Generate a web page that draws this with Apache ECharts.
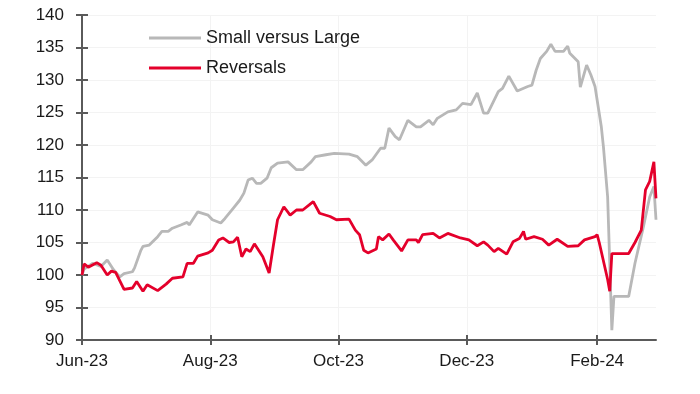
<!DOCTYPE html>
<html>
<head>
<meta charset="utf-8">
<script src="https://cdn.jsdelivr.net/npm/echarts@6/dist/echarts.min.js"></script>
<style>
html,body{margin:0;padding:0;background:#fff;}
#chart{width:700px;height:394px;}
</style>
</head>
<body>
<div id="chart"></div>
<script>
// Axis range
var START_DATE = '2023-06-01';
var END_DATE = '2024-02-29';
var Y_MIN = 90, Y_MAX = 140, Y_STEP = 5;
var SERIES_NAMES = ['Small versus Large', 'Reversals'];
var MONTH_NAMES = ['Jan','Feb','Mar','Apr','May','Jun','Jul','Aug','Sep','Oct','Nov','Dec'];

// Small versus Large (grey)
var smallVsLarge = [
  ['2023-06-01',100.0],['2023-06-02',100.9],['2023-06-06',101.8],['2023-06-10',101.3],
  ['2023-06-13',102.3],['2023-06-16',100.8],['2023-06-19',99.7],['2023-06-21',100.2],
  ['2023-06-25',100.5],['2023-06-26',101.1],['2023-06-29',103.8],['2023-06-30',104.4],
  ['2023-07-03',104.6],['2023-07-07',105.9],['2023-07-09',106.7],['2023-07-12',106.7],
  ['2023-07-14',107.2],['2023-07-18',107.7],['2023-07-21',108.1],['2023-07-22',107.7],
  ['2023-07-26',109.7],['2023-07-31',109.2],['2023-08-02',108.5],['2023-08-06',108.0],
  ['2023-08-08',108.7],['2023-08-12',110.3],['2023-08-15',111.5],['2023-08-17',112.6],
  ['2023-08-19',114.6],['2023-08-21',114.9],['2023-08-23',114.1],['2023-08-25',114.1],
  ['2023-08-28',114.9],['2023-08-30',116.5],['2023-09-02',117.2],['2023-09-07',117.4],
  ['2023-09-11',116.2],['2023-09-14',116.2],['2023-09-18',117.4],['2023-09-20',118.2],
  ['2023-09-25',118.5],['2023-09-29',118.7],['2023-10-06',118.6],['2023-10-10',118.2],
  ['2023-10-14',116.9],['2023-10-17',117.7],['2023-10-21',119.5],['2023-10-23',119.5],
  ['2023-10-25',122.6],['2023-10-28',121.3],['2023-10-30',120.8],['2023-11-03',123.8],
  ['2023-11-07',122.8],['2023-11-09',122.8],['2023-11-13',123.8],['2023-11-15',123.1],
  ['2023-11-17',124.1],['2023-11-22',125.1],['2023-11-26',125.4],['2023-11-29',126.4],
  ['2023-12-03',126.2],['2023-12-06',128.0],['2023-12-09',124.9],['2023-12-11',124.9],
  ['2023-12-16',128.2],['2023-12-18',128.7],['2023-12-21',130.6],['2023-12-25',128.3],
  ['2023-12-30',129.0],['2024-01-01',129.2],['2024-01-03',131.5],['2024-01-05',133.3],
  ['2024-01-08',134.4],['2024-01-10',135.5],['2024-01-12',134.4],['2024-01-16',134.4],
  ['2024-01-18',135.2],['2024-01-19',134.1],['2024-01-23',132.8],['2024-01-24',128.9],
  ['2024-01-27',132.3],['2024-01-29',130.8],['2024-01-31',129.0],['2024-02-03',122.8],
  ['2024-02-04',119.7],['2024-02-06',112.0],['2024-02-07',101.8],['2024-02-08',91.5],
  ['2024-02-09',96.7],['2024-02-16',96.7],['2024-02-19',101.8],['2024-02-23',107.4],
  ['2024-02-26',112.0],['2024-02-28',113.6],['2024-02-29',108.5]
];

// Reversals (red)
var reversals = [
  ['2023-06-01',100.0],['2023-06-02',101.7],['2023-06-04',101.2],['2023-06-08',101.9],
  ['2023-06-10',101.5],['2023-06-13',100.0],['2023-06-15',100.6],['2023-06-17',100.4],
  ['2023-06-21',97.8],['2023-06-25',98.0],['2023-06-27',99.0],['2023-06-30',97.5],
  ['2023-07-02',98.5],['2023-07-07',97.6],['2023-07-11',98.6],['2023-07-14',99.5],
  ['2023-07-19',99.7],['2023-07-21',101.8],['2023-07-24',101.8],['2023-07-26',102.9],
  ['2023-07-31',103.4],['2023-08-02',103.8],['2023-08-05',105.4],['2023-08-07',105.7],
  ['2023-08-10',105.0],['2023-08-12',105.1],['2023-08-14',105.8],['2023-08-16',102.8],
  ['2023-08-18',104.0],['2023-08-20',103.6],['2023-08-22',104.8],['2023-08-24',103.8],
  ['2023-08-26',102.8],['2023-08-29',100.3],['2023-08-31',104.5],['2023-09-02',108.5],
  ['2023-09-05',110.5],['2023-09-08',109.2],['2023-09-11',110.0],['2023-09-14',110.0],
  ['2023-09-19',111.3],['2023-09-22',109.5],['2023-09-27',109.0],['2023-09-30',108.5],
  ['2023-10-06',108.6],['2023-10-09',106.9],['2023-10-11',106.2],['2023-10-13',103.8],
  ['2023-10-15',103.4],['2023-10-19',104.0],['2023-10-20',105.9],['2023-10-22',105.4],
  ['2023-10-25',106.3],['2023-10-27',105.4],['2023-10-31',103.7],['2023-11-03',105.4],
  ['2023-11-07',105.4],['2023-11-08',105.0],['2023-11-10',106.2],['2023-11-15',106.4],
  ['2023-11-18',105.7],['2023-11-22',106.4],['2023-11-28',105.7],['2023-12-02',105.4],
  ['2023-12-06',104.5],['2023-12-09',105.1],['2023-12-11',104.6],['2023-12-14',103.6],
  ['2023-12-16',104.1],['2023-12-20',103.2],['2023-12-23',105.1],['2023-12-26',105.6],
  ['2023-12-28',106.7],['2023-12-29',105.5],['2024-01-02',105.9],['2024-01-06',105.5],
  ['2024-01-09',104.6],['2024-01-13',105.5],['2024-01-18',104.4],['2024-01-23',104.5],
  ['2024-01-26',105.4],['2024-01-31',105.9],['2024-02-01',106.2],['2024-02-02',105.0],
  ['2024-02-06',99.3],['2024-02-07',97.5],['2024-02-08',103.3],['2024-02-16',103.3],
  ['2024-02-19',105.0],['2024-02-22',106.9],['2024-02-24',113.1],['2024-02-26',114.4],
  ['2024-02-28',117.4],['2024-02-29',111.8]
];

// daily categories
function pad(n){return (n<10?'0':'')+n;}
var categories = [];
(function(){
  var d = new Date(START_DATE + 'T00:00:00Z');
  var e = new Date(END_DATE + 'T00:00:00Z');
  while (d <= e) {
    categories.push(d.getUTCFullYear()+'-'+pad(d.getUTCMonth()+1)+'-'+pad(d.getUTCDate()));
    d = new Date(d.getTime() + 86400000);
  }
})();

function isMajor(idx, val){
  var m = parseInt(val.substr(5,2),10);
  return val.substr(8,2) === '01' && (m % 2 === 0);
}
function fmt(val){
  var m = parseInt(val.substr(5,2),10);
  return MONTH_NAMES[m-1] + '-' + val.substr(2,2);
}

var AXIS_COLOR = '#5a5a5a';
var FONT = 'Liberation Sans, Arial, sans-serif';

var chart = echarts.init(document.getElementById('chart'), null, {renderer:'canvas'});
chart.setOption({
  animation: false,
  backgroundColor: '#ffffff',
  grid: {left: 82, right: 44, top: 15, bottom: 54, containLabel: false},
  legend: {
    orient: 'vertical',
    left: 144, top: 23,
    itemWidth: 52, itemHeight: 3, itemGap: 10,
    icon: 'rect',
    data: SERIES_NAMES,
    textStyle: {fontFamily: FONT, fontSize: 18, color: '#1a1a1a', lineHeight: 20}
  },
  xAxis: [{
    type: 'category', data: categories, boundaryGap: false,
    axisLine: {lineStyle: {color: AXIS_COLOR, width: 2}},
    axisTick: {show: true, interval: isMajor, length: 5, lineStyle: {color: AXIS_COLOR, width: 2}},
    axisLabel: {interval: isMajor, formatter: fmt, margin: 13, fontFamily: FONT, fontSize: 17, color: '#1a1a1a'},
    splitLine: {show: true, interval: isMajor, lineStyle: {color: '#f3f3f3', width: 1}}
  },{
    type: 'category', data: categories, boundaryGap: false, position: 'bottom',
    axisLine: {show: false},
    axisTick: {show: true, inside: true, interval: isMajor, length: 5, lineStyle: {color: AXIS_COLOR, width: 2}},
    axisLabel: {show: false}, splitLine: {show: false}
  }],
  yAxis: [{
    type: 'value', min: Y_MIN, max: Y_MAX, interval: Y_STEP,
    axisLine: {show: true, lineStyle: {color: AXIS_COLOR, width: 2}},
    axisTick: {show: true, length: 6, lineStyle: {color: AXIS_COLOR, width: 2}},
    axisLabel: {margin: 18, fontFamily: FONT, fontSize: 17, color: '#1a1a1a'},
    splitLine: {show: true, lineStyle: {color: '#f3f3f3', width: 1}}
  },{
    type: 'value', min: Y_MIN, max: Y_MAX, interval: Y_STEP, position: 'left',
    axisLine: {show: false},
    axisTick: {show: true, inside: true, length: 6, lineStyle: {color: AXIS_COLOR, width: 2}},
    axisLabel: {show: false}, splitLine: {show: false}
  }],
  series: [{
    name: SERIES_NAMES[0], type: 'line', data: smallVsLarge, showSymbol: false, symbol: 'none',
    lineStyle: {color: '#b8b8b8', width: 2.8}, itemStyle: {color: '#b8b8b8'}, z: 2
  },{
    name: SERIES_NAMES[1], type: 'line', data: reversals, showSymbol: false, symbol: 'none',
    lineStyle: {color: '#e4002b', width: 2.8}, itemStyle: {color: '#e4002b'}, z: 3
  }]
});
</script>
</body>
</html>
